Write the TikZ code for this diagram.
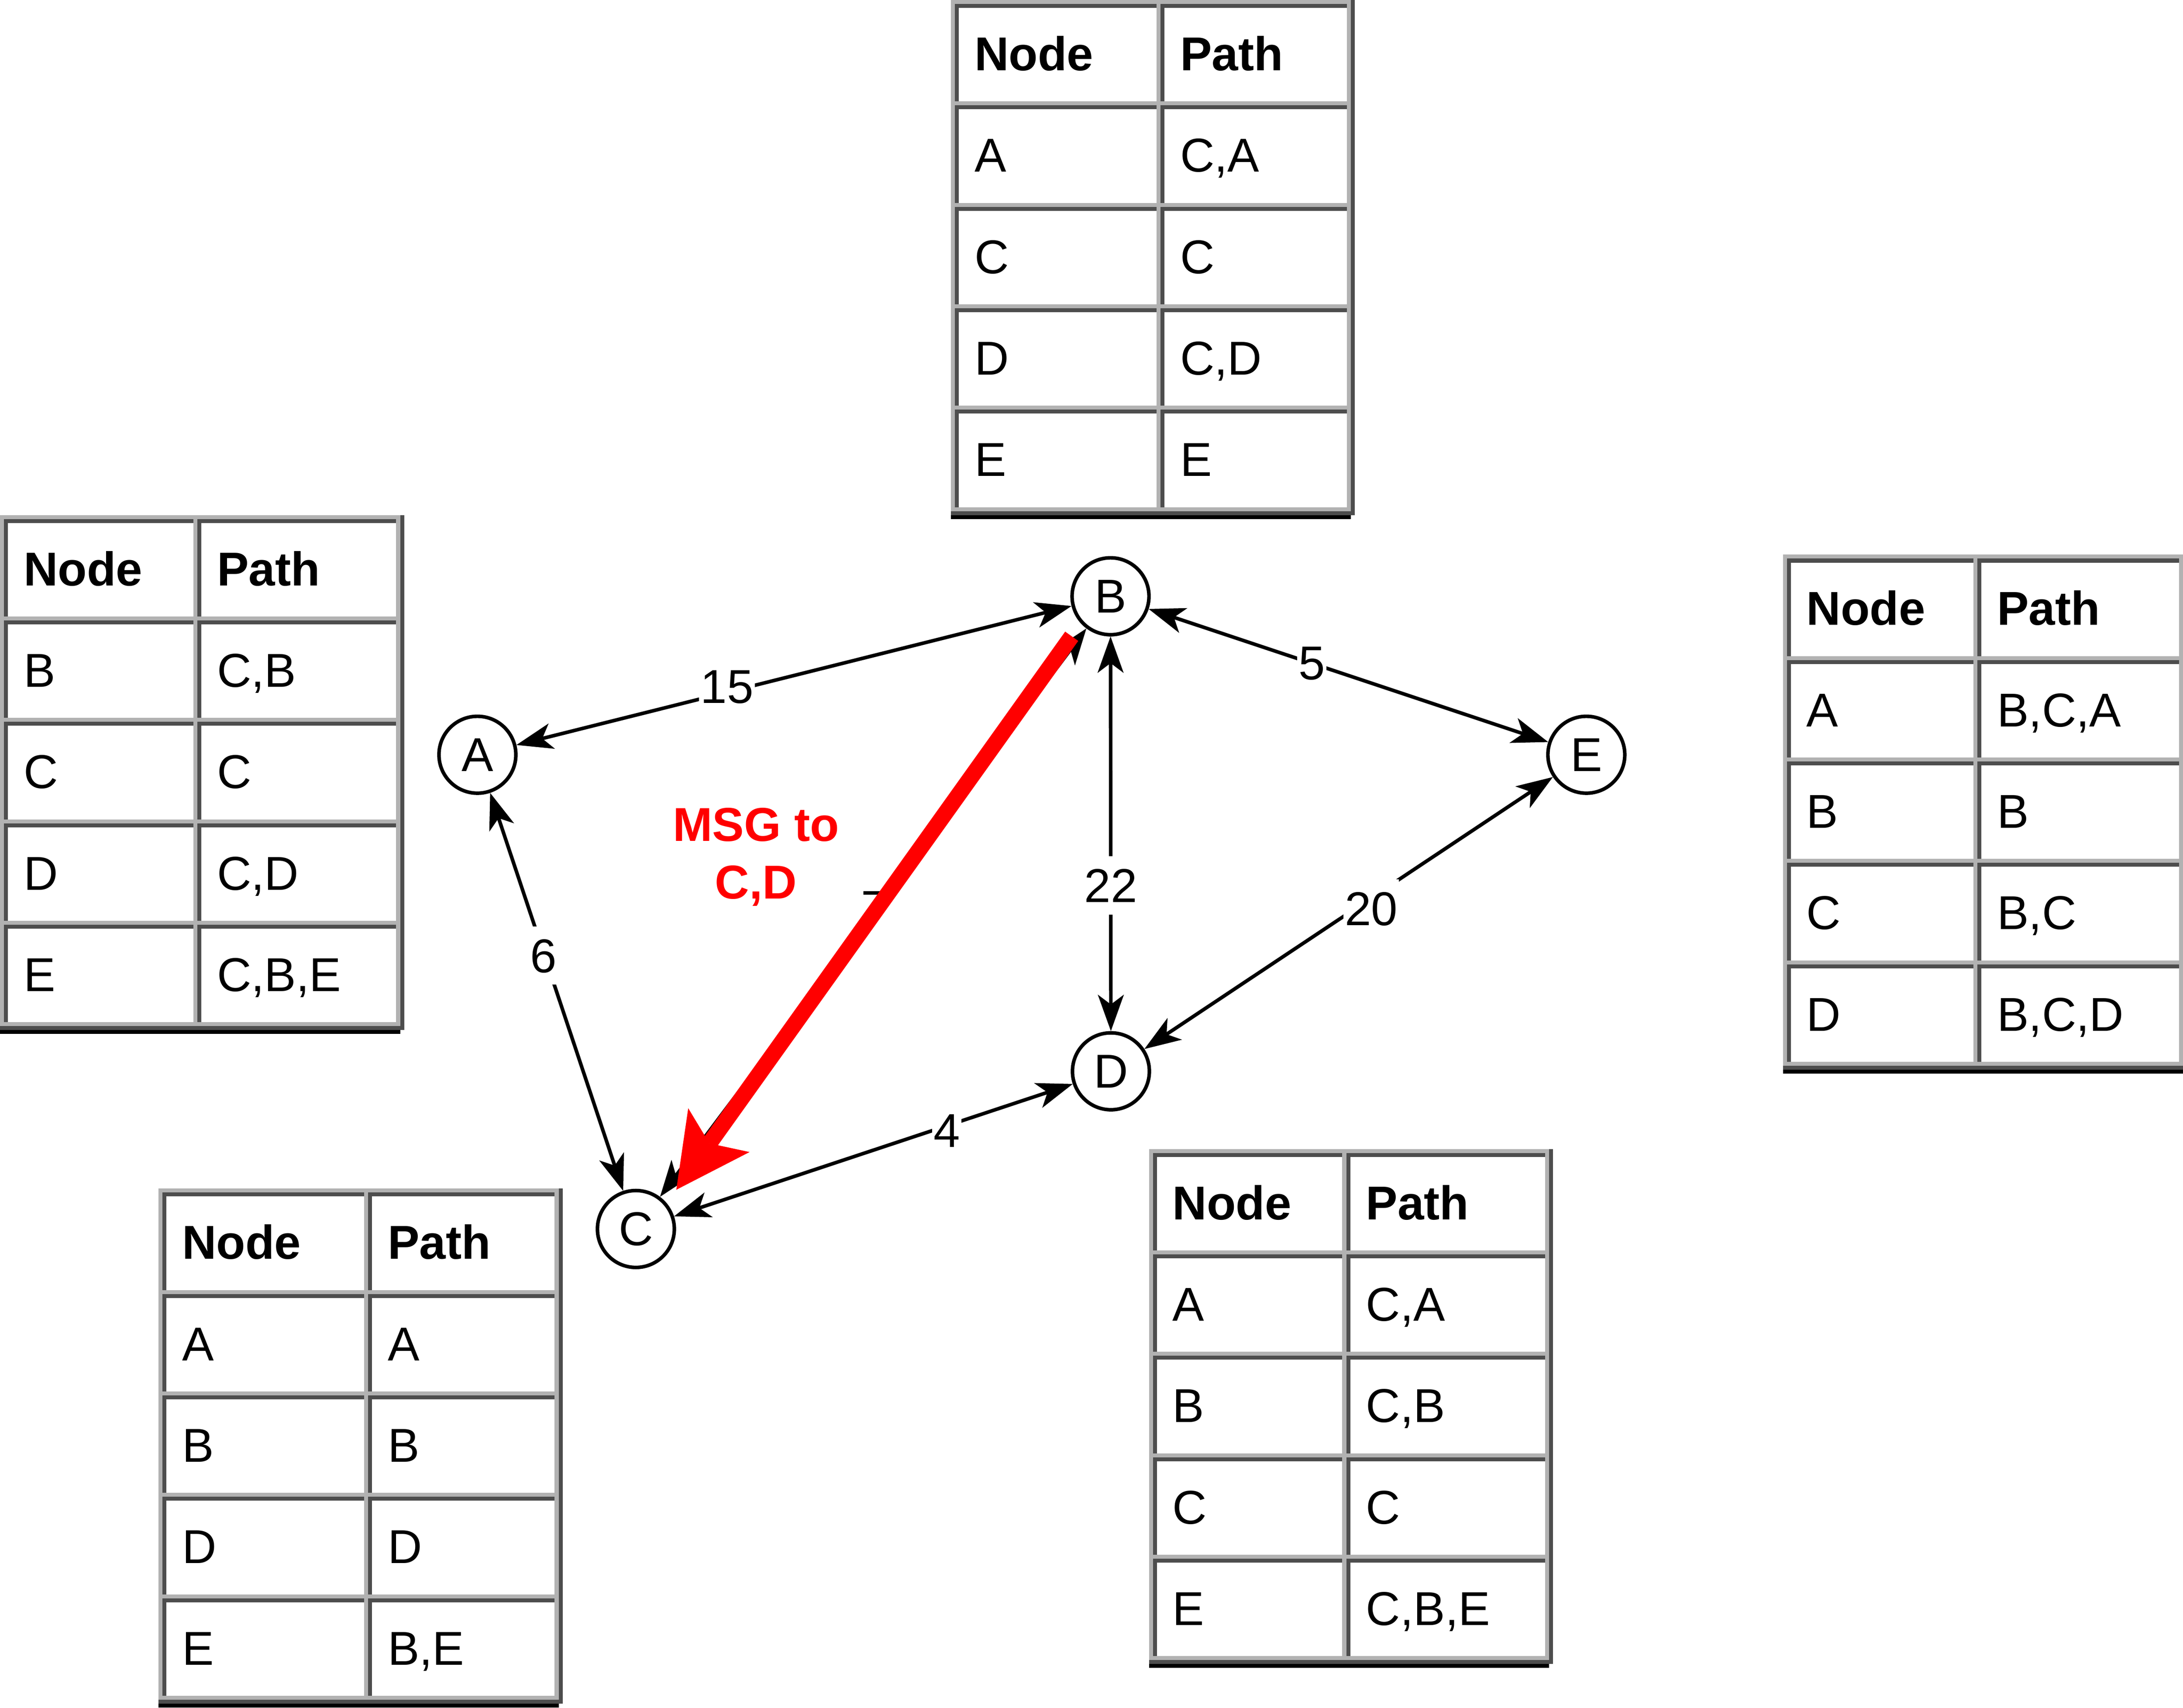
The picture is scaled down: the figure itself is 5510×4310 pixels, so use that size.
\documentclass[tikz,border=0pt]{standalone}
\usepackage{fontspec}
\setmainfont{Liberation Sans}
\usetikzlibrary{arrows.meta,calc}
\definecolor{tlight}{HTML}{B2B2B2}
\definecolor{tdark}{HTML}{4D4D4D}
\newcommand\fs{\fontsize{34.1pt}{41pt}\selectfont}
% one table cell background: x, y, width
\newcommand\tcellbg[3]{%
  \fill[tlight] (#1,#2) rectangle ++(#3,256);
  \fill[tdark] (#1,#2) rectangle ++(#3-10,246);
  \fill[white] (#1+10,#2+10) rectangle ++(#3-20,236);
}
% table frame: x0, y0, w1, w2
\newcommand\tframe[4]{%
  \fill[tdark] (#1,#2) rectangle ++(#3+#4+20,1300);
  \fill[tlight] (#1,#2) rectangle ++(#3+#4+10,1290);
  \fill[black] (#1,#2+1300) rectangle ++(#3+#4+10,10);
  \foreach \r in {0,...,4}{%
    \tcellbg{#1+10}{#2+10+256*\r}{#3}%
    \tcellbg{#1+10+#3}{#2+10+256*\r}{#4}%
  }%
}
% table row text: name, x0, y0, row, w1, left text, right text
\newcommand\trow[7]{%
  \node[celltext] (#1a) at (#2+59,#3+178+256*#4) {#6};
  \node[celltext] (#1b) at (#2+59+#5,#3+178+256*#4) {#7};
}
\begin{document}
\begin{tikzpicture}[x=0.01cm,y=-0.01cm,
  vtx/.style={circle,draw,line width=2.56pt,minimum size=1.94cm,inner sep=0pt,font=\fs,fill=white},
  edgeline/.style={line width=2.56pt,
    {Stealth[length=26.2pt,width=18.8pt,inset=7.1pt,line width=0pt]}-{Stealth[length=26.2pt,width=18.8pt,inset=7.1pt,line width=0pt]}},
  wlabel/.style={fill=white,inner xsep=1pt,inner ysep=0pt,text height=33pt,text depth=8.8pt,font=\fs},
  celltext/.style={anchor=base west,inner sep=0pt,font=\fs},
  msgtext/.style={anchor=base,inner sep=0pt,font=\fs\bfseries,text=red},
  msgarrow/.style={draw=red,line width=11.5pt,-{Stealth[length=52.6pt,width=54.1pt,inset=11.7pt,line width=0pt]}}
]
\useasboundingbox (0,0) rectangle (5510,4310);
\clip (0,0) rectangle (5510,4310);
\fill[white] (0,0) rectangle (5510,4310);

% ---- tables ----
\tframe{2400}{0}{519}{481}
\trow{t1h}{2400}{0}{0}{519}{\textbf{Node}}{\textbf{Path}}
\trow{t1r1}{2400}{0}{1}{519}{A}{C,A}
\trow{t1r2}{2400}{0}{2}{519}{C}{C}
\trow{t1r3}{2400}{0}{3}{519}{D}{C,D}
\trow{t1r4}{2400}{0}{4}{519}{E}{E}

\tframe{0}{1300}{488}{512}
\trow{t2h}{0}{1300}{0}{488}{\textbf{Node}}{\textbf{Path}}
\trow{t2r1}{0}{1300}{1}{488}{B}{C,B}
\trow{t2r2}{0}{1300}{2}{488}{C}{C}
\trow{t2r3}{0}{1300}{3}{488}{D}{C,D}
\trow{t2r4}{0}{1300}{4}{488}{E}{C,B,E}

\tframe{4500}{1400}{481}{519}
\trow{t3h}{4500}{1400}{0}{481}{\textbf{Node}}{\textbf{Path}}
\trow{t3r1}{4500}{1400}{1}{481}{A}{B,C,A}
\trow{t3r2}{4500}{1400}{2}{481}{B}{B}
\trow{t3r3}{4500}{1400}{3}{481}{C}{B,C}
\trow{t3r4}{4500}{1400}{4}{481}{D}{B,C,D}

\tframe{400}{3000}{519}{481}
\trow{t4h}{400}{3000}{0}{519}{\textbf{Node}}{\textbf{Path}}
\trow{t4r1}{400}{3000}{1}{519}{A}{A}
\trow{t4r2}{400}{3000}{2}{519}{B}{B}
\trow{t4r3}{400}{3000}{3}{519}{D}{D}
\trow{t4r4}{400}{3000}{4}{519}{E}{B,E}

\tframe{2900}{2900}{488}{512}
\trow{t5h}{2900}{2900}{0}{488}{\textbf{Node}}{\textbf{Path}}
\trow{t5r1}{2900}{2900}{1}{488}{A}{C,A}
\trow{t5r2}{2900}{2900}{2}{488}{B}{C,B}
\trow{t5r3}{2900}{2900}{3}{488}{C}{C}
\trow{t5r4}{2900}{2900}{4}{488}{E}{C,B,E}

% ---- graph nodes ----
\node[vtx] (A) at (1205,1905) {A};
\node[vtx] (B) at (2803,1505) {B};
\node[vtx] (C) at (1605,3102) {C};
\node[vtx] (D) at (2804,2704) {D};
\node[vtx] (E) at (4004,1905) {E};

% ---- edges ----
\draw[edgeline] (A) -- (B);
\draw[edgeline] (B) -- (E);
\draw[edgeline] (B) -- (D);
\draw[edgeline] (D) -- (E);
\draw[edgeline] (A) -- (C);
\draw[edgeline] (C) -- (D);
\draw[edgeline] (B) -- (C);

% ---- edge labels ----
\node[wlabel] (l15) at (1835,1732) {15};
\node[wlabel] (l5) at (3311,1673) {5};
\node[wlabel] (l22) at (2804,2235) {22};
\node[wlabel] (l20) at (3461,2293) {20};
\node[wlabel] (l6) at (1372,2412) {6};
\node[wlabel] (l4) at (2390,2853) {4};
\node[wlabel] (l7) at (2207,2290) {7};

% ---- message arrow ----
\coordinate (rs) at (2705,1606);
\coordinate (re) at (1707,3003);
\draw[msgarrow] (rs) -- (re);
\node[msgtext] (msg1) at (1908,2123) {MSG to};
\node[msgtext] (msg2) at (1908,2269) {C,D};
\end{tikzpicture}
\end{document}
